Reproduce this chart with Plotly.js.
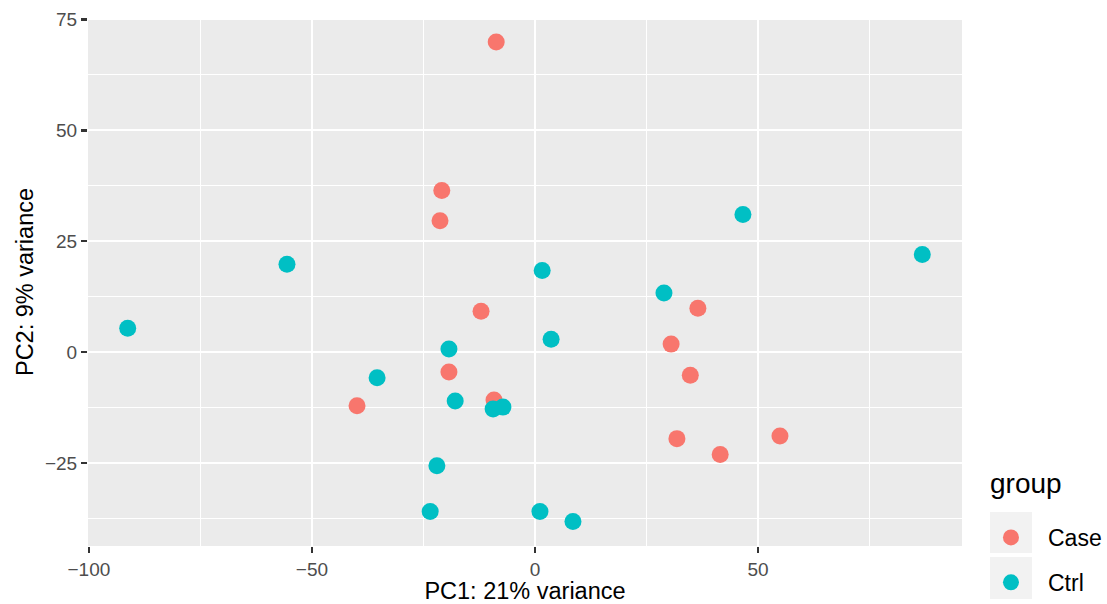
<!DOCTYPE html>
<html>
<head>
<meta charset="utf-8">
<script src="https://cdn.plot.ly/plotly-3.0.1.min.js"></script>
<style>html,body{margin:0;padding:0;background:#fff;}#chart{width:1107px;height:604px;}</style>
</head>
<body>
<div id="chart"></div>
<script>
const groups = ["Case", "Ctrl"];
const caseX = [-8.7, -20.9, -21.3, -12.1, -19.3, -39.9, -9.2, 36.5, 30.5, 34.8, 31.8, 41.5, 54.9];
const caseY = [69.9, 36.4, 29.6, 9.2, -4.5, -12.1, -10.8, 9.9, 1.8, -5.2, -19.5, -23.1, -18.9];
const ctrlX = [-91.3, -55.6, -35.4, -19.3, -17.9, -9.4, -7.2, -22.0, -23.5, 1.6, 3.6, 1.1, 8.5, 28.9, 46.6, 86.8];
const ctrlY = [5.4, 19.8, -5.8, 0.7, -11.0, -12.8, -12.4, -25.6, -35.9, 18.4, 2.9, -35.9, -38.2, 13.3, 31.0, 22.0];
const xTicks = [-100, -50, 0, 50];
const yTicks = [-25, 0, 25, 50, 75];
const colors = {Case: "#F8766D", Ctrl: "#00BFC4"};

const traces = [
  {x: caseX, y: caseY, name: groups[0], legendgroup: "a"},
  {x: ctrlX, y: ctrlY, name: groups[1], legendgroup: "b"}
].map(t => Object.assign(t, {
  type: "scatter", mode: "markers",
  marker: {color: colors[t.name], size: 17, line: {width: 0}}
}));

const FONT = "Liberation Sans, Arial, sans-serif";
const fmt = v => v < 0 ? "\u2212" + Math.abs(v) : String(v);

const axisCommon = {
  showline: false, zeroline: false,
  gridcolor: "#FFFFFF", gridwidth: 2,
  ticks: "outside", ticklen: 6, tickwidth: 2.5, tickcolor: "#333333",
  tickfont: {family: FONT, size: 19, color: "#4D4D4D"},
  fixedrange: true
};

const layout = {
  width: 1107, height: 604,
  margin: {l: 88, r: 145, t: 18, b: 58, autoexpand: false},
  paper_bgcolor: "#FFFFFF", plot_bgcolor: "#EBEBEB",
  font: {family: FONT},
  xaxis: Object.assign({}, axisCommon, {
    range: [-100.2, 95.7], tickvals: xTicks, ticktext: xTicks.map(fmt),
    minor: {showgrid: true, gridcolor: "#FFFFFF", gridwidth: 1, ticks: "", tickvals: [-75, -25, 25, 75]},
    title: {text: "PC1: 21% variance", font: {family: FONT, size: 23.5, color: "#000000"}, standoff: 0}
  }),
  yaxis: Object.assign({}, axisCommon, {
    range: [-43.7, 75.3], tickvals: yTicks, ticktext: yTicks.map(fmt),
    minor: {showgrid: true, gridcolor: "#FFFFFF", gridwidth: 1, ticks: "", tickvals: [-37.5, -12.5, 12.5, 37.5, 62.5]},
    title: {text: "PC2: 9% variance", font: {family: FONT, size: 23.5, color: "#000000"}, standoff: 4}
  }),
  showlegend: true,
  legend: {
    x: 1.0137, xanchor: "left", y: 0.0568, yanchor: "top",
    bgcolor: "rgba(0,0,0,0)", borderwidth: 0,
    font: {family: FONT, size: 23, color: "#000000"},
    traceorder: "grouped", tracegroupgap: 12,
    itemwidth: 64, itemsizing: "trace"
  },
  annotations: [
    {text: "group", xref: "paper", yref: "paper", x: 1.0297, y: 0.1193, xanchor: "left", yanchor: "middle",
     showarrow: false, font: {family: FONT, size: 28, color: "#000000"}}
  ],
  shapes: [
    {type: "rect", xref: "paper", yref: "paper", x0: 1.032, x1: 1.0801, y0: -0.0133, y1: 0.0644, fillcolor: "#F2F2F2", line: {width: 0}, layer: "below"},
    {type: "rect", xref: "paper", yref: "paper", x0: 1.032, x1: 1.0801, y0: -0.1004, y1: -0.0208, fillcolor: "#F2F2F2", line: {width: 0}, layer: "below"}
  ]
};

Plotly.newPlot("chart", traces, layout, {displayModeBar: false, staticPlot: true});
</script>
</body>
</html>
